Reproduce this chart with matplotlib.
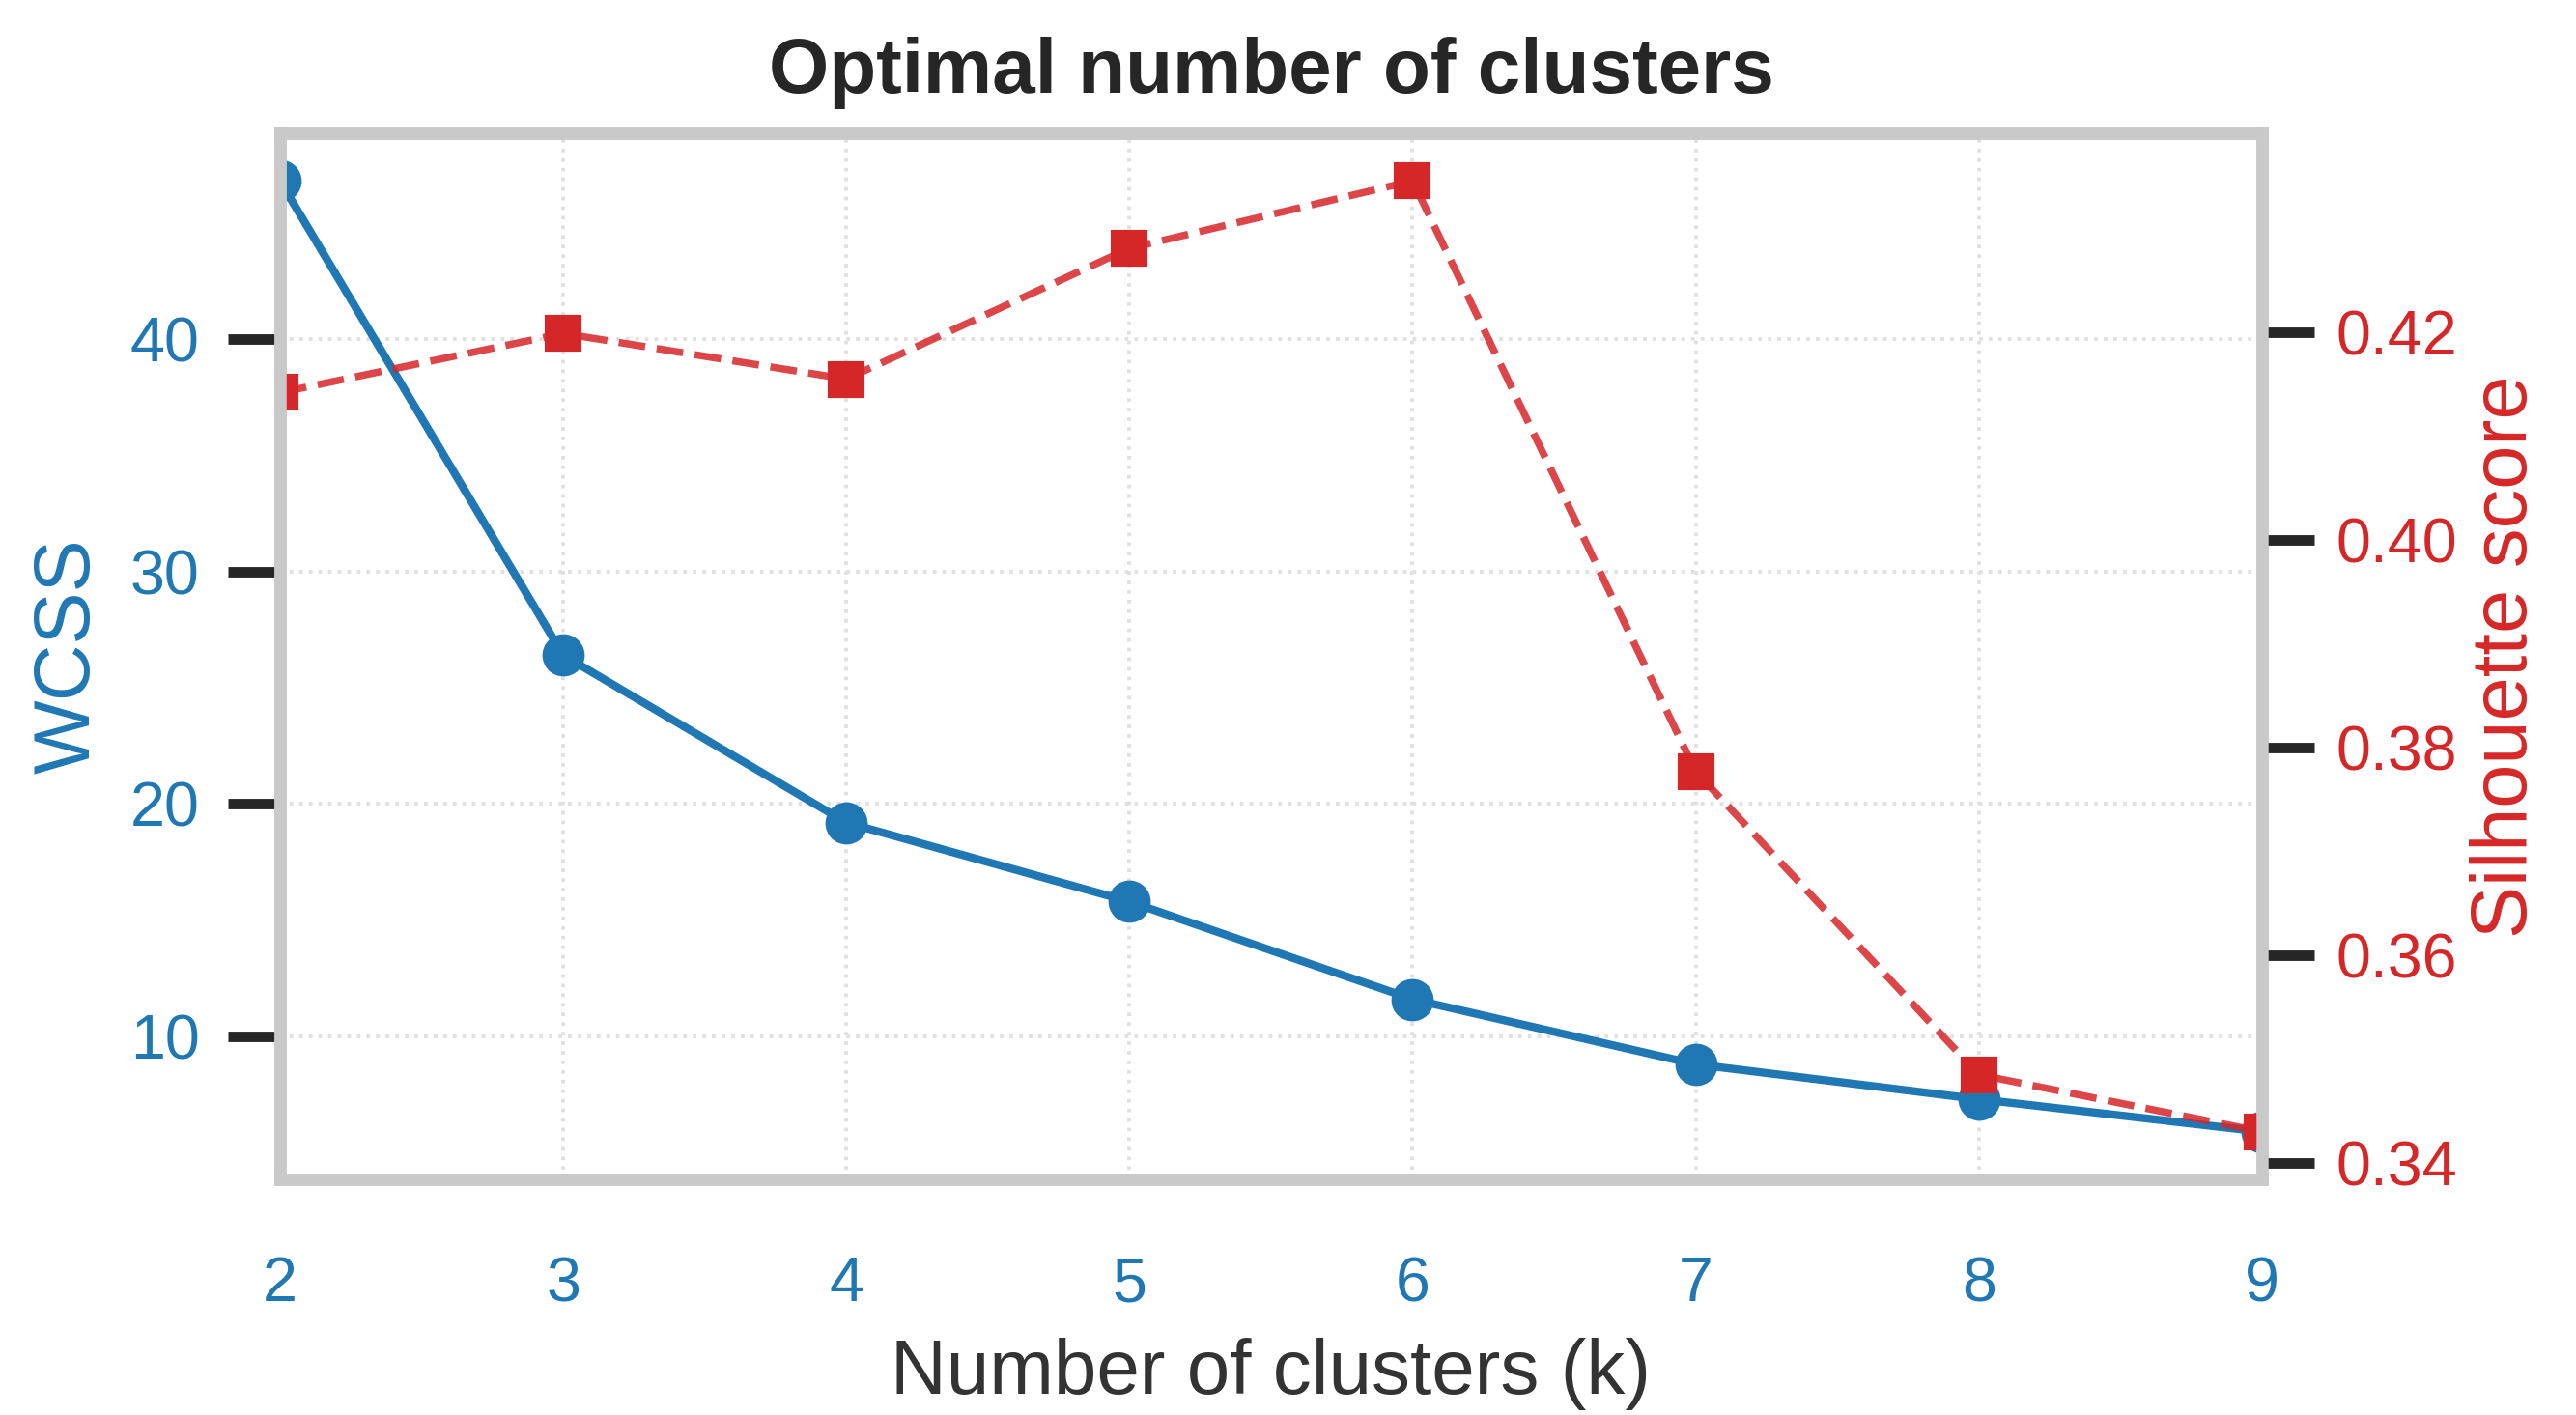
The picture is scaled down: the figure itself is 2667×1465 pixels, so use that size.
import matplotlib
matplotlib.use('Agg')
import matplotlib.pyplot as plt
from matplotlib.ticker import FormatStrFormatter

# values
k_values = [2, 3, 4, 5, 6, 7, 8, 9]
wcss = [46.8, 26.4, 19.2, 15.8, 11.6, 8.8, 7.3, 5.9]
silhouette = [0.4142, 0.4199, 0.4155, 0.4281, 0.4346, 0.3777, 0.3485, 0.3430]

wcss_ticks = [10, 20, 30, 40]
sil_ticks = [0.34, 0.36, 0.38, 0.40, 0.42]

BLUE = '#1f77b4'
RED = '#d62728'
SPINE = '#c9c9c9'

plt.rcParams['font.family'] = ['Liberation Sans', 'DejaVu Sans']

fig = plt.figure(figsize=(2667 / 300, 1465 / 300), dpi=300)
ax1 = fig.add_axes([0.1087, 0.1666, 0.8781 - 0.1087, 0.9058 - 0.1666])
ax2 = ax1.twinx()

# WCSS (elbow curve)
ax1.plot(k_values, wcss, color=BLUE, linewidth=2.0, marker='o', markersize=9.5)
ax1.set_xlim(2, 9)
ax1.set_xticks(k_values)
ax1.set_yticks(wcss_ticks)
ax1.set_ylabel('WCSS', color=BLUE, fontsize=19.5, labelpad=6)
ax1.set_xlabel('Number of clusters (k)', color='#333333', fontsize=19.2, labelpad=6)

# silhouette score
ax2.plot(k_values, silhouette, color=(0.84, 0.15, 0.16, 0.85), linewidth=1.8,
         linestyle='--', marker='s', markersize=8,
         markerfacecolor=RED, markeredgecolor=RED)
ax2.set_yticks(sil_ticks)
ax2.yaxis.set_major_formatter(FormatStrFormatter('%.2f'))
ax2.set_ylabel('Silhouette score', color=RED, fontsize=19.5, labelpad=3)

# grid only from the left axis
ax1.set_axisbelow(True)
ax1.grid(True, color='#e0e0e0', linestyle=':', linewidth=0.9)
ax2.grid(False)

ax1.tick_params(axis='y', labelcolor=BLUE, labelsize=15.5, color='#262626',
                length=13, width=2.6, pad=7, direction='out')
ax1.tick_params(axis='x', labelcolor=BLUE, labelsize=15.5, length=0, pad=19)
ax2.tick_params(axis='y', labelcolor=RED, labelsize=15.5, color='#262626',
                length=13, width=2.6, pad=5.5, direction='out')

for ax in (ax1, ax2):
    for s in ax.spines.values():
        s.set_color(SPINE)
        s.set_linewidth(3)

ax1.set_title('Optimal number of clusters', fontsize=19.2, fontweight='bold',
              color='#262626', pad=10)

fig.savefig('out.png', dpi=300, facecolor='white')
